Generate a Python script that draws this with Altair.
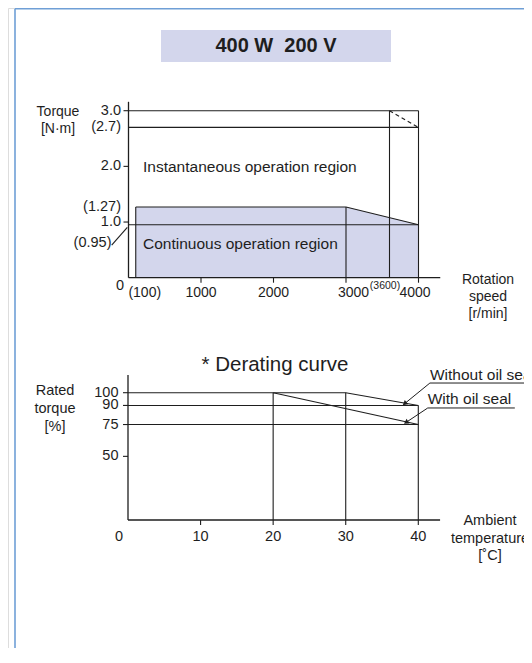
import altair as alt
import pandas as pd

FONT = "Liberation Sans"
INK = "#1e1e1e"
FILL = "#d3d6ec"
FRAME = "#6f9fd6"
LW = 1.1

# ---------------- data: torque / speed chart ----------------
TITLE = "400 W\u00a0 200 V"
SPEED_DOMAIN = [0, 4000]
TORQUE_DOMAIN = [0, 3.0]
SPEED_AXIS_END = 4300
TORQUE_AXIS_END = 3.16

CONT_SPEED = [100, 3000, 4000]
CONT_TORQUE = [1.27, 1.27, 0.95]

H_LEVELS = [3.0, 2.7, 0.95]
H_END = 4000
V_SPEEDS = [100, 3000, 3600, 4000]
V_TOPS = [1.27, 1.27, 3.0, 3.0]
DASH_SPEED = [3600, 4000]
DASH_TORQUE = [3.0, 2.7]

TOP_Y_TICKS = [3.0, 2.0, 1.0]
TOP_X_TICKS = [1000, 2000, 3000, 4000]
TOP_Y_LABELS = ["3.0", "(2.7)", "2.0", "(1.27)", "1.0"]
TOP_Y_LABEL_AT = [3.0, 2.7, 2.0, 1.27, 1.0]
TOP_X_LABELS = ["1000", "2000"]
TOP_X_LABEL_AT = [1000, 2000]

REGION_LABELS = ["Instantaneous operation region", "Continuous operation region"]
REGION_SPEED = [200, 200]
REGION_TORQUE = [1.98, 0.6]

# ---------------- data: derating chart ----------------
TEMP_DOMAIN = [0, 40]
RATED_DOMAIN = [0, 100]
TEMP_AXIS_END = 43
RATED_AXIS_END = 114

NO_SEAL_TEMP = [20, 30, 40]
NO_SEAL_TORQUE = [100, 100, 90]
SEAL_TEMP = [20, 40]
SEAL_TORQUE = [100, 75]

BH_LEVELS = [100, 90, 75]
BH_ENDS = [20, 40, 40]
BV_TEMPS = [20, 30, 40]
BV_TOPS = [100, 100, 90]

BOT_Y_TICKS = [100, 90, 75, 50]
BOT_Y_LABELS = ["100", "90", "75", "50"]
BOT_X_TICKS = [10, 20, 30, 40]
BOT_X_LABELS = ["10", "20", "30", "40"]

LEGEND_LABELS = ["Without oil seal", "With oil seal"]
LEGEND_TEMP = [41.6, 41.3]
LEGEND_LINE_END = [56.0, 53.3]
LEGEND_TORQUE = [107.6, 88.0]
ARROW_TIP_TEMP = [38.2, 38.4]
ARROW_TIP_TORQUE = [91.8, 77.0]
ARROW_ANGLE = [231, 238]

# ---------------- scales ----------------
tx = alt.Scale(domain=SPEED_DOMAIN, range=[120.5, 410.5], nice=False, zero=False)
ty = alt.Scale(domain=TORQUE_DOMAIN, range=[269.7, 102.7], nice=False, zero=False)
bx = alt.Scale(domain=TEMP_DOMAIN, range=[120, 410.3], nice=False, zero=False)
by = alt.Scale(domain=RATED_DOMAIN, range=[512, 384.7], nice=False, zero=False)


def segs(x1, y1, x2, y2, xs, ys, **kw):
    df = pd.DataFrame({"x1": x1, "y1": y1, "x2": x2, "y2": y2})
    style = dict(color=INK, strokeWidth=LW)
    style.update(kw)
    return alt.Chart(df).mark_rule(**style).encode(
        x=alt.X("x1:Q", scale=xs, axis=None),
        y=alt.Y("y1:Q", scale=ys, axis=None),
        x2="x2:Q",
        y2="y2:Q",
    )


def line(xv, yv, xs, ys, **kw):
    df = pd.DataFrame({"x": xv, "y": yv, "i": list(range(len(xv)))})
    style = dict(color=INK, strokeWidth=LW)
    style.update(kw)
    return alt.Chart(df).mark_line(**style).encode(
        x=alt.X("x:Q", scale=xs, axis=None),
        y=alt.Y("y:Q", scale=ys, axis=None),
        order="i:Q",
    )


def texts(xv, yv, labels, xs, ys, **kw):
    df = pd.DataFrame({"x": xv, "y": yv, "t": labels})
    style = dict(font=FONT, color=INK, fontSize=14, baseline="middle")
    style.update(kw)
    return alt.Chart(df).mark_text(**style).encode(
        x=alt.X("x:Q", scale=xs, axis=None),
        y=alt.Y("y:Q", scale=ys, axis=None),
        text="t:N",
    )


# ---------------- top chart ----------------
n_h = len(H_LEVELS)
n_v = len(V_SPEEDS)
top_layers = [
    alt.Chart(pd.DataFrame({"x": CONT_SPEED, "y": CONT_TORQUE, "y0": [0] * len(CONT_SPEED)}))
    .mark_area(color=FILL, opacity=1)
    .encode(x=alt.X("x:Q", scale=tx, axis=None), y=alt.Y("y:Q", scale=ty, axis=None), y2="y0:Q"),
    segs([0] * n_h, H_LEVELS, [H_END] * n_h, H_LEVELS, tx, ty),
    segs(V_SPEEDS, [0] * n_v, V_SPEEDS, V_TOPS, tx, ty),
    line(CONT_SPEED, CONT_TORQUE, tx, ty),
    line(DASH_SPEED, DASH_TORQUE, tx, ty, strokeDash=[4, 3]),
    # axes
    segs([0], [0], [SPEED_AXIS_END], [0], tx, ty, strokeWidth=1.3),
    segs([0], [0], [0], [TORQUE_AXIS_END], tx, ty, strokeWidth=1.3),
    # ticks
    segs([0] * 3, TOP_Y_TICKS, [0] * 3, TOP_Y_TICKS, tx, ty, xOffset=-5),
    segs(TOP_X_TICKS, [0] * 4, TOP_X_TICKS, [0] * 4, tx, ty, y2Offset=5),
    # (0.95) leader
    segs([0], [0.95], [0], [0.95], tx, ty, xOffset=-16.8, yOffset=20.2, x2Offset=-1.2, y2Offset=2.5),
    # tick labels
    texts([0] * 5, TOP_Y_LABEL_AT, TOP_Y_LABELS, tx, ty, align="right", dx=-7.5, fontSize=14.5),
    texts([0], [0.95], ["(0.95)"], tx, ty, align="right", dx=-17, dy=18, fontSize=14.5),
    texts(TOP_X_LABEL_AT, [0, 0], TOP_X_LABELS, tx, ty, align="center", dy=15),
    texts([0], [0], ["0"], tx, ty, align="center", dx=-8.5, dy=8, fontSize=14.5),
    texts([100], [0], ["(100)"], tx, ty, align="center", dx=9, dy=15),
    texts([3000], [0], ["3000"], tx, ty, align="center", dx=7.5, dy=15),
    texts([3600], [0], ["(3600)"], tx, ty, align="center", dx=-4.5, dy=8, fontSize=10.5),
    texts([4000], [0], ["4000"], tx, ty, align="center", dx=-3.5, dy=15),
    texts(REGION_SPEED, REGION_TORQUE, REGION_LABELS, tx, ty, align="left", fontSize=15.5),
]
top = alt.layer(*top_layers)

# ---------------- bottom chart ----------------
nb = len(BH_LEVELS)
bot_layers = [
    segs([0] * nb, BH_LEVELS, BH_ENDS, BH_LEVELS, bx, by),
    segs(BV_TEMPS, [0] * len(BV_TEMPS), BV_TEMPS, BV_TOPS, bx, by),
    line(NO_SEAL_TEMP, NO_SEAL_TORQUE, bx, by),
    line(SEAL_TEMP, SEAL_TORQUE, bx, by),
    segs([0], [0], [TEMP_AXIS_END], [0], bx, by, strokeWidth=1.3),
    segs([0], [0], [0], [RATED_AXIS_END], bx, by, strokeWidth=1.3),
    segs([0] * 4, BOT_Y_TICKS, [0] * 4, BOT_Y_TICKS, bx, by, xOffset=-5),
    segs(BOT_X_TICKS, [0] * 4, BOT_X_TICKS, [0] * 4, bx, by, y2Offset=5),
    texts([0] * 4, BOT_Y_TICKS, BOT_Y_LABELS, bx, by, align="right", dx=-9.5, fontSize=14.5),
    texts(BOT_X_TICKS, [0] * 4, BOT_X_LABELS, bx, by, align="center", dy=17, fontSize=14.5),
    texts([0], [0], ["0"], bx, by, align="center", dx=-9, dy=17, fontSize=14.5),
    # legend leaders
    segs(LEGEND_TEMP, LEGEND_TORQUE, LEGEND_LINE_END, LEGEND_TORQUE, bx, by, strokeWidth=1),
    segs(LEGEND_TEMP, LEGEND_TORQUE, ARROW_TIP_TEMP, ARROW_TIP_TORQUE, bx, by, strokeWidth=1),
    texts(LEGEND_TEMP, LEGEND_TORQUE, LEGEND_LABELS, bx, by, align="left",
          baseline="alphabetic", dy=-3.5, fontSize=15.5),
]
for tt, tq, ang in zip(ARROW_TIP_TEMP, ARROW_TIP_TORQUE, ARROW_ANGLE):
    bot_layers.append(
        alt.Chart(pd.DataFrame({"x": [tt], "y": [tq]}))
        .mark_point(shape="triangle", filled=True, size=30, angle=ang, color=INK, opacity=1)
        .encode(x=alt.X("x:Q", scale=bx, axis=None), y=alt.Y("y:Q", scale=by, axis=None))
    )
bottom = alt.layer(*bot_layers)

# ---------------- decoration & titles ----------------
one = pd.DataFrame({"a": [0]})
frame_left = alt.Chart(one).mark_rule(color=FRAME, strokeWidth=1.6).encode(
    x=alt.value(7), y=alt.value(0.8), y2=alt.value(640))
frame_top = alt.Chart(one).mark_rule(color=FRAME, strokeWidth=1.6).encode(
    x=alt.value(7), x2=alt.value(516), y=alt.value(0.8))
title_box = alt.Chart(one).mark_rect(color=FILL).encode(
    x=alt.value(153), x2=alt.value(383), y=alt.value(22), y2=alt.value(54))


def label(txt, x, y, **kw):
    style = dict(font=FONT, color=INK, fontSize=15, align="center", baseline="middle",
                 lineBreak="\n", lineHeight=17)
    style.update(kw)
    return alt.Chart(pd.DataFrame({"t": [txt]})).mark_text(**style).encode(
        x=alt.value(x), y=alt.value(y), text="t:N")


titles = [
    label(TITLE, 268, 38, fontSize=20, fontWeight="bold"),
    label("* Derating curve", 267, 357, fontSize=20.5),
    label("Torque\n[N·m]", 50, 103.5, fontSize=14),
    label("Rotation\nspeed\n[r/min]", 480, 272, fontSize=14),
    label("Rated\ntorque\n[%]", 47, 383, fontSize=14.5, lineHeight=18),
    label("Ambient\ntemperature\n[˚C]", 482, 513, fontSize=14.5, lineHeight=17.5),
]

chart = alt.layer(frame_left, frame_top, title_box, *titles, top, bottom).resolve_scale(
    x="independent", y="independent"
).properties(
    width=516, height=640, padding=0, autosize=alt.AutoSizeParams(type="none")
).configure_view(stroke=None).configure(background="white")

chart.save("out.html", embed_options={"renderer": "svg", "actions": False})
